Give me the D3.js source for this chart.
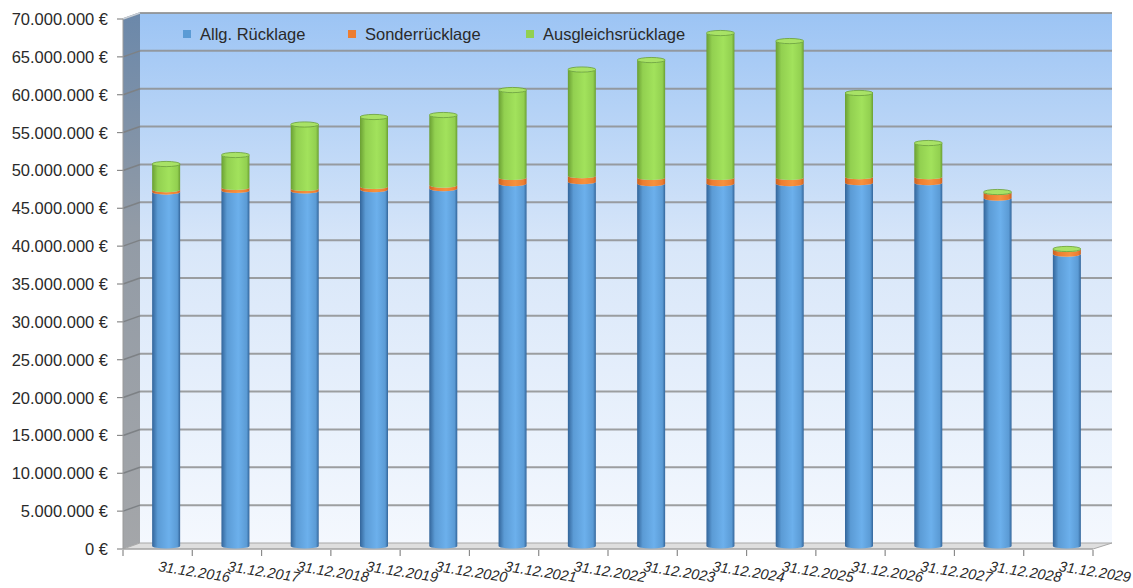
<!DOCTYPE html>
<html><head><meta charset="utf-8">
<script src="https://cdn.jsdelivr.net/npm/d3@7"></script>
<style>
html,body{margin:0;padding:0;background:#fff;}
svg{display:block;font-family:"Liberation Sans",Arial,sans-serif;}
</style></head>
<body><svg id="c" width="1133" height="588"></svg>
<script>
const categories = ["31.12.2016","31.12.2017","31.12.2018","31.12.2019","31.12.2020","31.12.2021","31.12.2022","31.12.2023","31.12.2024","31.12.2025","31.12.2026","31.12.2027","31.12.2028","31.12.2029"];
const seriesNames = ["Allg. Rücklage","Sonderrücklage","Ausgleichsrücklage"];
const allgRuecklage   = [46.75,46.95,46.90,47.08,47.21,47.87,48.11,47.87,47.87,47.87,47.98,47.98,45.95,38.56].map(v=>v*1e6);
const sonderRuecklage = [0.33,0.40,0.33,0.40,0.46,0.80,0.79,0.80,0.80,0.80,0.79,0.79,0.75,0.62].map(v=>v*1e6);
const ausgleichRuecklage = [3.37,4.29,8.44,9.18,9.25,11.55,14.03,15.51,19.08,18.02,11.06,4.45,0.05,0.05].map(v=>v*1e6);
const yTicks = [0,5e6,10e6,15e6,20e6,25e6,30e6,35e6,40e6,45e6,50e6,55e6,60e6,65e6,70e6];

const colors = [
  {base:"#5b9bd5", dark:"#33659a", light:"#6cb0ec", cap:"#7ab8ec"},
  {base:"#ed7d31", dark:"#c8601e", light:"#f7923e", cap:"#f7a050"},
  {base:"#92d050", dark:"#6a9f33", light:"#a2e25c", cap:"#a8e266"}
];

const svg = d3.select("#c");
const defs = svg.append("defs");
const X0 = 123, X1 = 1093, Y0 = 549, Y1 = 19;
const DX = 17, DY = -6;

const x = d3.scaleBand().domain(categories).range([X0, X1]).padding(0);
const y = d3.scaleLinear().domain([0, 70e6]).range([Y0, Y1]);

// gradients
const gBack = defs.append("linearGradient").attr("id","gBack").attr("x1",0).attr("y1",0).attr("x2",0).attr("y2",1);
gBack.append("stop").attr("offset","0").attr("stop-color","#9cc4f4");
gBack.append("stop").attr("offset","0.45").attr("stop-color","#d9e7f9");
gBack.append("stop").attr("offset","1").attr("stop-color","#f4f8fe");
const gLeft = defs.append("linearGradient").attr("id","gLeft").attr("x1",0).attr("y1",0).attr("x2",0).attr("y2",1);
gLeft.append("stop").attr("offset","0").attr("stop-color","#6b88aa");
gLeft.append("stop").attr("offset","0.4").attr("stop-color","#929ba6");
gLeft.append("stop").attr("offset","1").attr("stop-color","#a4a6a9");
colors.forEach((c,i)=>{
  const g = defs.append("linearGradient").attr("id","gs"+i).attr("x1",0).attr("y1",0).attr("x2",1).attr("y2",0);
  g.append("stop").attr("offset","0").attr("stop-color",c.dark);
  g.append("stop").attr("offset","0.2").attr("stop-color",c.base);
  g.append("stop").attr("offset","0.6").attr("stop-color",c.light);
  g.append("stop").attr("offset","0.9").attr("stop-color",c.base);
  g.append("stop").attr("offset","1").attr("stop-color",c.dark);
});

// back wall
svg.append("rect").attr("x",X0+DX).attr("y",y(70e6)+DY).attr("width",(X1+DX+2)-(X0+DX)).attr("height",y(0)-y(70e6)).attr("fill","url(#gBack)");
// left wall
svg.append("path").attr("d",`M${X0},${y(70e6)} L${X0+DX},${y(70e6)+DY} L${X0+DX},${y(0)+DY} L${X0},${y(0)} Z`).attr("fill","url(#gLeft)");
// floor
svg.append("path").attr("d",`M${X0},${Y0} L${X0+DX},${Y0+DY} L${X1+DX+2},${Y0+DY} L${X1},${Y0} Z`).attr("fill","#dedede").attr("stroke","#a8a8a8").attr("stroke-width",1);

// gridlines
const grid = svg.append("g");
yTicks.forEach(t=>{
  if(t===0) return;
  grid.append("line").attr("x1",X0+DX).attr("x2",X1+DX+2).attr("y1",y(t)+DY).attr("y2",y(t)+DY).attr("stroke","#8f9091").attr("stroke-width",2).attr("opacity",0.85);
  grid.append("line").attr("x1",X0).attr("x2",X0+DX).attr("y1",y(t)).attr("y2",y(t)+DY).attr("stroke","#7d8185").attr("stroke-width",1.5);
});
svg.append("line").attr("x1",X0).attr("x2",X0+DX).attr("y1",y(70e6)).attr("y2",y(70e6)+DY).attr("stroke","#c8d0da").attr("stroke-width",1.5);

// y axis ticks and labels
const yAxis = svg.append("g");
yTicks.forEach(t=>{
  yAxis.append("line").attr("x1",X0-6).attr("x2",X0).attr("y1",y(t)).attr("y2",y(t)).attr("stroke","#8a8a8a").attr("stroke-width",1.2);
  yAxis.append("text").attr("x",108).attr("y",y(t)).attr("dy","0.36em").attr("text-anchor","end")
    .attr("font-size","16.5px").attr("fill","#2a2a2a")
    .text(d3.format(",")(t).replace(/,/g,".") + " €");
});
svg.append("line").attr("x1",X0).attr("x2",X0).attr("y1",Y1).attr("y2",Y0).attr("stroke","#9a9a9a").attr("stroke-width",1);
// x axis ticks and labels
const xAxis = svg.append("g");
xAxis.append("line").attr("x1",X0).attr("x2",X1).attr("y1",Y0).attr("y2",Y0).attr("stroke","#a0a0a0").attr("stroke-width",1.2);
d3.range(categories.length+1).forEach(i=>{
  const xx = X0 + i*x.bandwidth();
  xAxis.append("line").attr("x1",xx).attr("x2",xx).attr("y1",Y0+1).attr("y2",Y0+7).attr("stroke","#8a8a8a").attr("stroke-width",1.2);
});
categories.forEach(c=>{
  const cx = x(c) + x.bandwidth()/2;
  xAxis.append("text").attr("transform",`translate(${cx},${571}) rotate(9)`).attr("text-anchor","start")
    .attr("font-size","14.5px").attr("font-style","italic").attr("fill","#2a2a2a").text(c);
});

// bars (cylinders)
const rows = categories.map((c,i)=>({cat:c, s0:allgRuecklage[i], s1:sonderRuecklage[i], s2:ausgleichRuecklage[i]}));
const stack = d3.stack().keys(["s0","s1","s2"])(rows);
const BW = 28, RY = 2.6;
const bars = svg.append("g");
const barX = c => x(c) + x.bandwidth()/2 + DX/2 - BW/2;
const yb = v => y(v) + DY/2;
stack.forEach((layer,si)=>{
  layer.forEach(d=>{
    const c = d.data.cat;
    const L = barX(c), R = L + BW;
    const ya = yb(d[0]), yt = yb(d[1]);
    if(d[1]-d[0] <= 0) return;
    const p = `M${L},${yt} L${L},${ya} A${BW/2},${RY} 0 0 0 ${R},${ya} L${R},${yt} A${BW/2},${RY} 0 0 1 ${L},${yt} Z`;
    bars.append("path").attr("d",p).attr("fill",`url(#gs${si})`);
  });
});
rows.forEach(r=>{
  const total = r.s0 + r.s1 + r.s2;
  const L = barX(r.cat);
  bars.append("ellipse").attr("cx",L+BW/2).attr("cy",yb(total)).attr("rx",BW/2).attr("ry",RY)
    .attr("fill",colors[2].cap).attr("stroke",colors[2].dark).attr("stroke-width",0.8);
});

// legend
const legend = svg.append("g");
const legX = [183, 348, 526];
seriesNames.forEach((n,i)=>{
  legend.append("rect").attr("x",legX[i]).attr("y",30).attr("width",8).attr("height",8).attr("fill",colors[i].base);
  legend.append("text").attr("x",legX[i]+17).attr("y",39.5).attr("font-size","16.5px").attr("fill","#2a2a2a").text(n);
});
</script></body></html>
